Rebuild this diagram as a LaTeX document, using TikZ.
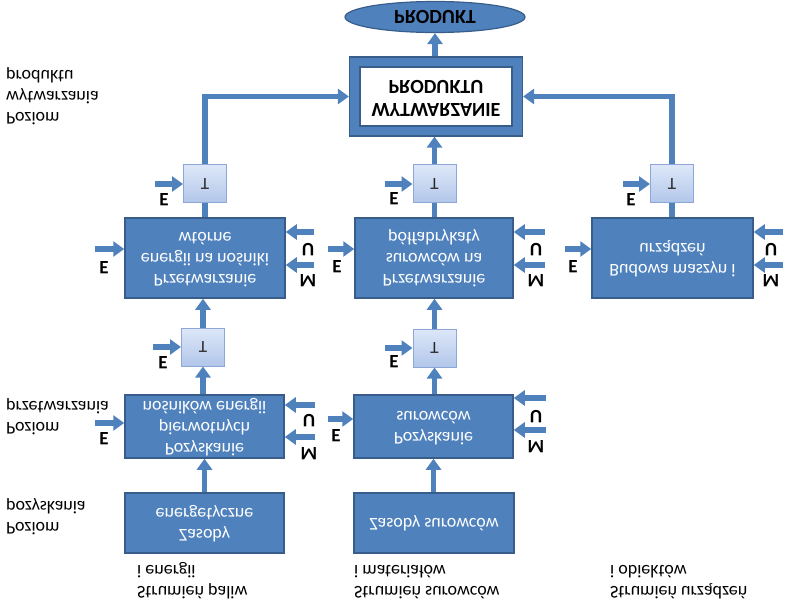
\documentclass[tikz,border=0pt]{standalone}
\usepackage{fontspec}
\setmainfont{Carlito}
\usepackage{graphicx}
\usetikzlibrary{arrows.meta,shapes.geometric}
\definecolor{bfill}{HTML}{4F81BD}
\definecolor{bdraw}{HTML}{385D8A}
\definecolor{arrc}{HTML}{4F81BD}
\definecolor{tTop}{HTML}{DDE7F8}
\definecolor{tBot}{HTML}{B2C6EA}
\definecolor{tDraw}{HTML}{8AA7D8}
\newcommand\flp[1]{\scalebox{1}[-1]{#1}}
\newcommand\flc[1]{\flp{\begin{tabular}{@{}c@{}}#1\end{tabular}}}
\newcommand\fll[1]{\flp{\begin{tabular}{@{}l@{}}#1\end{tabular}}}
\begin{document}
\begin{tikzpicture}[x=1pt,y=-1pt,
  box/.style={rectangle, fill=bfill, draw=bdraw, line width=1.5pt, text=white,
    font=\fontsize{18}{21}\selectfont, inner sep=0pt},
  tbox/.style={rectangle, draw=tDraw, line width=1pt, top color=tTop, bottom color=tBot,
    minimum width=43, minimum height=38, font=\fontsize{17}{19}\selectfont, text=black!85},
  conn/.style={draw=arrc, line width=5.5pt},
  arr/.style={conn, -{Triangle[width=15pt,length=11pt]}},
  lab/.style={font=\bfseries\fontsize{19}{21}\selectfont, inner sep=0pt},
  txt/.style={font=\fontsize{18}{21}\selectfont, inner sep=0pt, anchor=west}]
\useasboundingbox (0,0) rectangle (788,607);

% top
\node[ellipse, fill=bfill, draw=bdraw, line width=1.2pt, minimum width=180, minimum height=31,
  inner sep=0pt, font=\bfseries\fontsize{20}{22}\selectfont] (prod) at (435,17) {\flp{PRODUKT}};
\node[rectangle, fill=bfill, draw=bdraw, line width=1.2pt, minimum width=173, minimum height=79] (wyt) at (436,96.5) {};
\node[rectangle, fill=white, draw=bdraw, line width=1.2pt, minimum width=152, minimum height=59,
  inner sep=0pt, font=\bfseries\fontsize{20}{23}\selectfont] (wytin) at (436,96.5) {\flc{WYTWARZANIE\\PRODUKTU}};

% T boxes
\node[tbox] (tL) at (205,184) {\flp{T}};
\node[tbox] (tM) at (434.5,184) {\flp{T}};
\node[tbox] (tR) at (672,184) {\flp{T}};
\node[tbox] (tL2) at (203,347) {\flp{T}};
\node[tbox] (tM2) at (434.5,348) {\flp{T}};

% upper boxes
\node[box, minimum width=160, minimum height=80] (pL) at (205,258) {\flc{Przetwarzanie\\energii na nośniki\\wtórne}};
\node[box, minimum width=158, minimum height=80] (pM) at (434,258) {\flc{Przetwarzanie\\surowców na\\półfabrykaty}};
\node[box, minimum width=161, minimum height=80] (pR) at (672.5,258) {\flc{Budowa maszyn i\\urządzeń}};

% lower boxes
\node[box, minimum width=159, minimum height=63] (qL) at (204.5,426.5) {\flc{Pozyskanie\\pierwotnych\\nośników energii}};
\node[box, minimum width=159, minimum height=63] (qM) at (433.5,426.5) {\flc{Pozyskanie\\surowców}};

% bottom boxes
\node[box, minimum width=159, minimum height=60] (zL) at (204.5,523) {\flc{Zasoby\\energetyczne}};
\node[box, minimum width=160, minimum height=60] (zM) at (434,523) {\flc{Zasoby surowców}};

% main connectors
\draw[arr] (prod.south |- wyt.north) -- (prod.south);
\draw[arr] (tM.north) -- (tM.north |- wyt.south);
\draw[arr] (tL.north) |- (wyt.west);
\draw[arr] (tR.north) |- (wyt.east);
\draw[conn] (pL.north) -- (tL.south);
\draw[conn] (pM.north -| tM.south) -- (tM.south);
\draw[conn] (pR.north -| tR.south) -- (tR.south);
\draw[arr] (tL2.north) -- (pL.south -| tL2.north);
\draw[arr] (tM2.north) -- (pM.south -| tM2.north);
\draw[arr] (qL.north -| tL2.south) -- (tL2.south);
\draw[arr] (qM.north -| tM2.south) -- (tM2.south);
\draw[arr] (zL.north) -- (qL.south);
\draw[arr] (zM.north -| qM.south) -- (qM.south);

% side inputs: T boxes
\coordinate (eTL) at (155,184);
\coordinate (eTM) at (385,184);
\coordinate (eTR) at (623,184);
\coordinate (eTL2) at (153,347);
\coordinate (eTM2) at (385,348);
\draw[arr] (eTL) -- (tL.west);
\draw[arr] (eTM) -- (tM.west);
\draw[arr] (eTR) -- (tR.west);
\draw[arr] (eTL2) -- (tL2.west);
\draw[arr] (eTM2) -- (tM2.west);
\node[lab] (lETL) at (164,200) {\flp{E}};
\node[lab] (lETM) at (394,199) {\flp{E}};
\node[lab] (lETR) at (631,200) {\flp{E}};
\node[lab] (lETL2) at (163,363) {\flp{E}};
\node[lab] (lETM2) at (394,362) {\flp{E}};

% side inputs: upper boxes
\coordinate (ePL) at (95,249);
\coordinate (ePM) at (328,249);
\coordinate (ePR) at (565,249);
\draw[arr] (ePL) -- (ePL -| pL.west);
\draw[arr] (ePM) -- (ePM -| pM.west);
\draw[arr] (ePR) -- (ePR -| pR.west);
\node[lab] (lEPL) at (104,268) {\flp{E}};
\node[lab] (lEPM) at (337,267) {\flp{E}};
\node[lab] (lEPR) at (573,267) {\flp{E}};
\coordinate (uPL) at (314,232);
\coordinate (mPL) at (314,265);
\coordinate (uPM) at (545,232);
\coordinate (mPM) at (545,265);
\coordinate (uPR) at (783,232);
\coordinate (mPR) at (783,265);
\draw[arr] (uPL) -- (uPL -| pL.east);
\draw[arr] (mPL) -- (mPL -| pL.east);
\draw[arr] (uPM) -- (uPM -| pM.east);
\draw[arr] (mPM) -- (mPM -| pM.east);
\draw[arr] (uPR) -- (uPR -| pR.east);
\draw[arr] (mPR) -- (mPR -| pR.east);
\node[lab] (lUPL) at (308,250) {\flp{U}};
\node[lab] (lMPL) at (308,281) {\flp{M}};
\node[lab] (lUPM) at (536,250) {\flp{U}};
\node[lab] (lMPM) at (536,281) {\flp{M}};
\node[lab] (lUPR) at (771,250) {\flp{U}};
\node[lab] (lMPR) at (771,281) {\flp{M}};

% side inputs: lower boxes
\coordinate (eQL) at (95,423);
\coordinate (eQM) at (328,419);
\draw[arr] (eQL) -- (eQL -| qL.west);
\draw[arr] (eQM) -- (eQM -| qM.west);
\node[lab] (lEQL) at (104,439) {\flp{E}};
\node[lab] (lEQM) at (336,436) {\flp{E}};
\coordinate (uQL) at (315,405);
\coordinate (mQL) at (315,437);
\coordinate (uQM) at (546,398);
\coordinate (mQM) at (546,430);
\draw[arr] (uQL) -- (uQL -| qL.east);
\draw[arr] (mQL) -- (mQL -| qL.east);
\draw[arr] (uQM) -- (uQM -| qM.east);
\draw[arr] (mQM) -- (mQM -| qM.east);
\node[lab] (lUQL) at (309,421) {\flp{U}};
\node[lab] (lMQL) at (309,454) {\flp{M}};
\node[lab] (lUQM) at (536,417) {\flp{U}};
\node[lab] (lMQM) at (536,447) {\flp{M}};

% level labels
\node[txt] (lev1) at (6,96) {\fll{Poziom\\wytwarzania\\produktu}};
\node[txt] (lev2) at (6,416) {\fll{Poziom\\przetwarzania}};
\node[txt] (lev3) at (6,516) {\fll{Poziom\\pozyskania}};

% stream labels
\node[txt] (s1) at (137,580) {\fll{Strumień paliw\\i energii}};
\node[txt] (s2) at (354,580) {\fll{Strumień surowców\\i materiałów}};
\node[txt] (s3) at (610,580) {\fll{Strumień urządzeń\\i obiektów}};
\end{tikzpicture}
\end{document}
